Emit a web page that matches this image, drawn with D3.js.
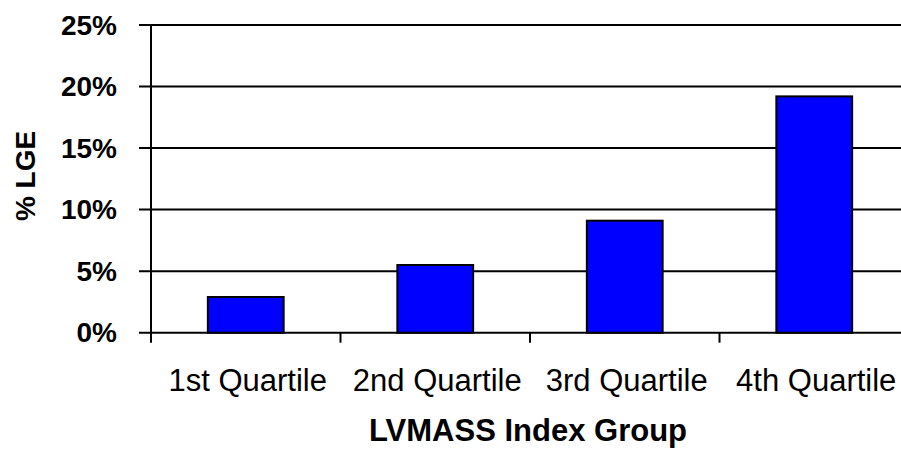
<!DOCTYPE html>
<html>
<head>
<meta charset="utf-8">
<script src="https://cdn.jsdelivr.net/npm/d3@7"></script>
<style>
  html, body { margin: 0; padding: 0; background: #fff; }
  svg { display: block; }
  text { font-family: "Liberation Sans", Arial, sans-serif; fill: #000; }
</style>
</head>
<body>
<div id="chart"></div>
<script>
const categories = ["1st Quartile", "2nd Quartile", "3rd Quartile", "4th Quartile"];
const values = [2.9, 5.5, 9.1, 19.2];
const yTicks = [0, 5, 10, 15, 20, 25];
const yTickLabels = ["0%", "5%", "10%", "15%", "20%", "25%"];
const xTitle = "LVMASS Index Group";
const yTitle = "% LGE";

const W = 901, H = 452;
const mLeft = 151, mRight = 909, mTop = 25, mBottom = 332.7;

const svg = d3.select("#chart").append("svg").attr("width", W).attr("height", H);

const y = d3.scaleLinear().domain([0, 25]).range([mBottom, mTop]);
const xCat = d3.scaleBand().domain(categories).range([mLeft, mRight]).padding(0);
const xBar = d3.scaleBand().domain(categories).range([mLeft, mRight]).paddingInner(0.6).paddingOuter(0.3);

// gridlines (with outward ticks)
svg.append("g").selectAll("line").data(yTicks).join("line")
  .attr("x1", mLeft - 12).attr("x2", mRight)
  .attr("y1", d => y(d)).attr("y2", d => y(d))
  .attr("stroke", "#000").attr("stroke-width", 2);

// y tick labels
svg.append("g").selectAll("text").data(yTicks).join("text")
  .attr("x", 117).attr("y", d => y(d))
  .attr("text-anchor", "end").attr("dominant-baseline", "central")
  .attr("font-size", 28).attr("font-weight", "bold")
  .text((d, i) => yTickLabels[i]);

// bars
svg.append("g").selectAll("rect").data(categories).join("rect")
  .attr("x", d => xBar(d)).attr("width", xBar.bandwidth())
  .attr("y", (d, i) => y(values[i])).attr("height", (d, i) => y(0) - y(values[i]))
  .attr("fill", "#0000FF").attr("stroke", "#000").attr("stroke-width", 2);

// y axis line
svg.append("line").attr("x1", mLeft).attr("x2", mLeft).attr("y1", y(25)).attr("y2", y(0) + 10)
  .attr("stroke", "#000").attr("stroke-width", 2);

// x category boundary ticks
const bounds = categories.map(c => xCat(c)).concat([mRight]);
svg.append("g").selectAll("line").data(bounds.slice(1)).join("line")
  .attr("x1", d => d).attr("x2", d => d)
  .attr("y1", y(0)).attr("y2", y(0) + 10)
  .attr("stroke", "#000").attr("stroke-width", 2);

// x tick labels
svg.append("g").selectAll("text").data(categories).join("text")
  .attr("x", d => xCat(d) + xCat.bandwidth() / 2 + 2).attr("y", 391)
  .attr("text-anchor", "middle")
  .attr("font-size", 31)
  .text(d => d);

// x title
svg.append("text").attr("x", 528).attr("y", 441)
  .attr("text-anchor", "middle").attr("font-size", 31).attr("font-weight", "bold")
  .text(xTitle);

// y title
svg.append("text").attr("transform", "translate(35,176) rotate(-90)")
  .attr("text-anchor", "middle").attr("font-size", 28).attr("font-weight", "bold")
  .text(yTitle);
</script>
</body>
</html>
